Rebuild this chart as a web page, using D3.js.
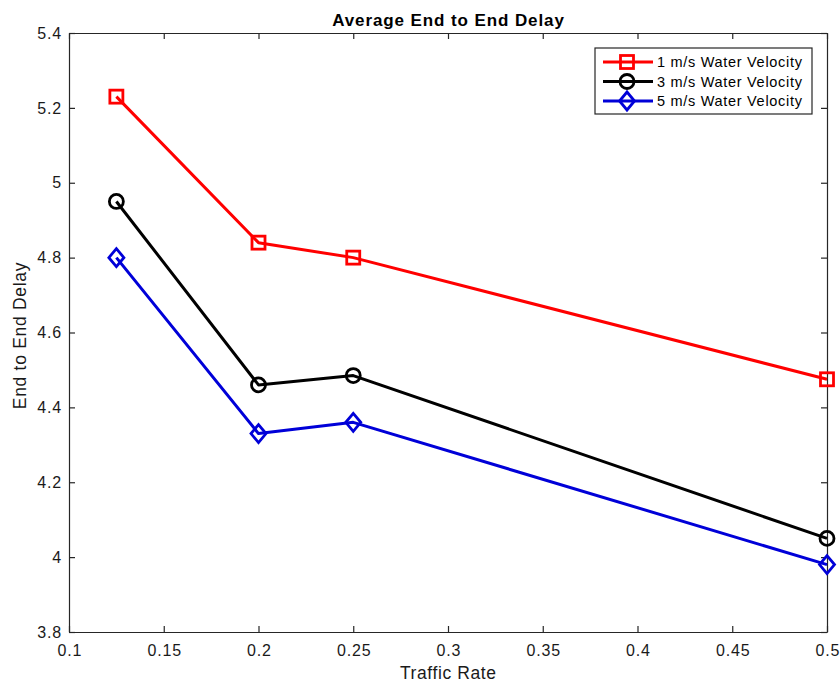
<!DOCTYPE html>
<html>
<head>
<meta charset="utf-8">
<script src="https://cdn.jsdelivr.net/npm/d3@7"></script>
<style>
  body { margin: 0; background: #fff; }
  svg { display: block; font-family: "Liberation Sans", Arial, Helvetica, sans-serif; }
</style>
</head>
<body>
<svg id="chart" width="840" height="685"></svg>
<script>
// Traffic rates on the x axis
const trafficRate = [0.125, 0.2, 0.25, 0.5];

// Average end-to-end delay per water velocity
const delay1ms = [5.23, 4.84, 4.80, 4.475];
const delay3ms = [4.95, 4.46, 4.485, 4.05];
const delay5ms = [4.80, 4.33, 4.36, 3.98];

const seriesNames = ["1 m/s Water Velocity", "3 m/s Water Velocity", "5 m/s Water Velocity"];

const xTicks = [0.1, 0.15, 0.2, 0.25, 0.3, 0.35, 0.4, 0.45, 0.5];
const yTicks = [3.8, 4, 4.2, 4.4, 4.6, 4.8, 5, 5.2, 5.4];

const series = [
  { name: seriesNames[0], values: delay1ms, color: "#ff0000", marker: "square" },
  { name: seriesNames[1], values: delay3ms, color: "#000000", marker: "circle" },
  { name: seriesNames[2], values: delay5ms, color: "#0000d8", marker: "diamond" }
];

const svg = d3.select("#chart");
const plotLeft = 69, plotRight = 827, plotTop = 33, plotBottom = 632;

const x = d3.scaleLinear().domain([0.1, 0.5]).range([plotLeft, plotRight]);
const y = d3.scaleLinear().domain([3.8, 5.4]).range([plotBottom, plotTop]);
const axisColor = "#262626";
const textColor = "#1a1a1a";
const tickLen = 6;

// Axes with inward ticks on all four sides
const fmt = d => String(+d.toFixed(2));
const gx = svg.append("g").attr("transform", `translate(0,${plotBottom})`)
  .call(d3.axisBottom(x).tickValues(xTicks).tickSizeInner(-tickLen).tickSizeOuter(0).tickPadding(13).tickFormat(fmt));
const gy = svg.append("g").attr("transform", `translate(${plotLeft},0)`)
  .call(d3.axisLeft(y).tickValues(yTicks).tickSizeInner(-tickLen).tickSizeOuter(0).tickPadding(7).tickFormat(fmt));
const gxt = svg.append("g").attr("transform", `translate(0,${plotTop})`)
  .call(d3.axisTop(x).tickValues(xTicks).tickSizeInner(-tickLen).tickSizeOuter(0).tickFormat(""));
const gyr = svg.append("g").attr("transform", `translate(${plotRight},0)`)
  .call(d3.axisRight(y).tickValues(yTicks).tickSizeInner(-tickLen).tickSizeOuter(0).tickFormat(""));

[gx, gy, gxt, gyr].forEach(g => {
  g.select(".domain").attr("stroke", axisColor).attr("stroke-width", 1.2);
  g.selectAll(".tick line").attr("stroke", axisColor).attr("stroke-width", 1.2);
  g.selectAll(".tick text").attr("fill", textColor)
    .style("font-size", "16px").style("letter-spacing", "0.8px")
    .style("font-family", "Liberation Sans, Arial, sans-serif");
});
// centre x tick labels despite the trailing letter spacing
gx.selectAll(".tick text").attr("dx", "0.4px");

// Titles
svg.append("text").attr("x", (plotLeft + plotRight) / 2 + 0.5).attr("y", 26)
  .attr("text-anchor", "middle").attr("font-weight", "bold").attr("font-size", "17px")
  .style("letter-spacing", "0.9px").attr("fill", "#000")
  .text("Average End to End Delay");
svg.append("text").attr("x", (plotLeft + plotRight) / 2 + 0.3).attr("y", 679)
  .attr("text-anchor", "middle").attr("font-size", "17.5px")
  .style("letter-spacing", "0.6px").attr("fill", textColor)
  .text("Traffic Rate");
svg.append("text").attr("transform", `translate(26,${(plotTop + plotBottom) / 2 + 3}) rotate(-90)`)
  .attr("text-anchor", "middle").attr("font-size", "17.5px")
  .style("letter-spacing", "0.7px").attr("fill", textColor)
  .text("End to End Delay");

function drawMarker(g, type, cx, cy, color) {
  if (type === "square") {
    g.append("rect").attr("x", cx - 6.5).attr("y", cy - 6.5).attr("width", 13).attr("height", 13)
      .attr("fill", "none").attr("stroke", color).attr("stroke-width", 2.8);
  } else if (type === "circle") {
    g.append("circle").attr("cx", cx).attr("cy", cy).attr("r", 7)
      .attr("fill", "none").attr("stroke", color).attr("stroke-width", 2.8);
  } else {
    g.append("path").attr("d", `M${cx},${cy - 9}L${cx + 7.5},${cy}L${cx},${cy + 9}L${cx - 7.5},${cy}Z`)
      .attr("fill", "none").attr("stroke", color).attr("stroke-width", 2.8);
  }
}

const line = d3.line().x((d, i) => x(trafficRate[i])).y(d => y(d));

series.forEach(s => {
  const g = svg.append("g");
  g.append("path").datum(s.values).attr("d", line)
    .attr("fill", "none").attr("stroke", s.color).attr("stroke-width", 3).attr("stroke-linejoin", "round");
  s.values.forEach((v, i) => drawMarker(g, s.marker, x(trafficRate[i]), y(v), s.color));
});

// Legend
const lg = svg.append("g");
lg.append("rect").attr("x", 595).attr("y", 48).attr("width", 217).attr("height", 66)
  .attr("fill", "#fff").attr("stroke", axisColor).attr("stroke-width", 1.2);
series.forEach((s, i) => {
  const ly = 62 + i * 19.5;
  lg.append("line").attr("x1", 603).attr("x2", 653).attr("y1", ly).attr("y2", ly)
    .attr("stroke", s.color).attr("stroke-width", 3);
  drawMarker(lg, s.marker, 627, ly, s.color);
  lg.append("text").attr("x", 657).attr("y", ly + 5).attr("font-size", "14.5px")
    .style("letter-spacing", "0.7px").attr("fill", "#000")
    .text(s.name);
});
</script>
</body>
</html>
